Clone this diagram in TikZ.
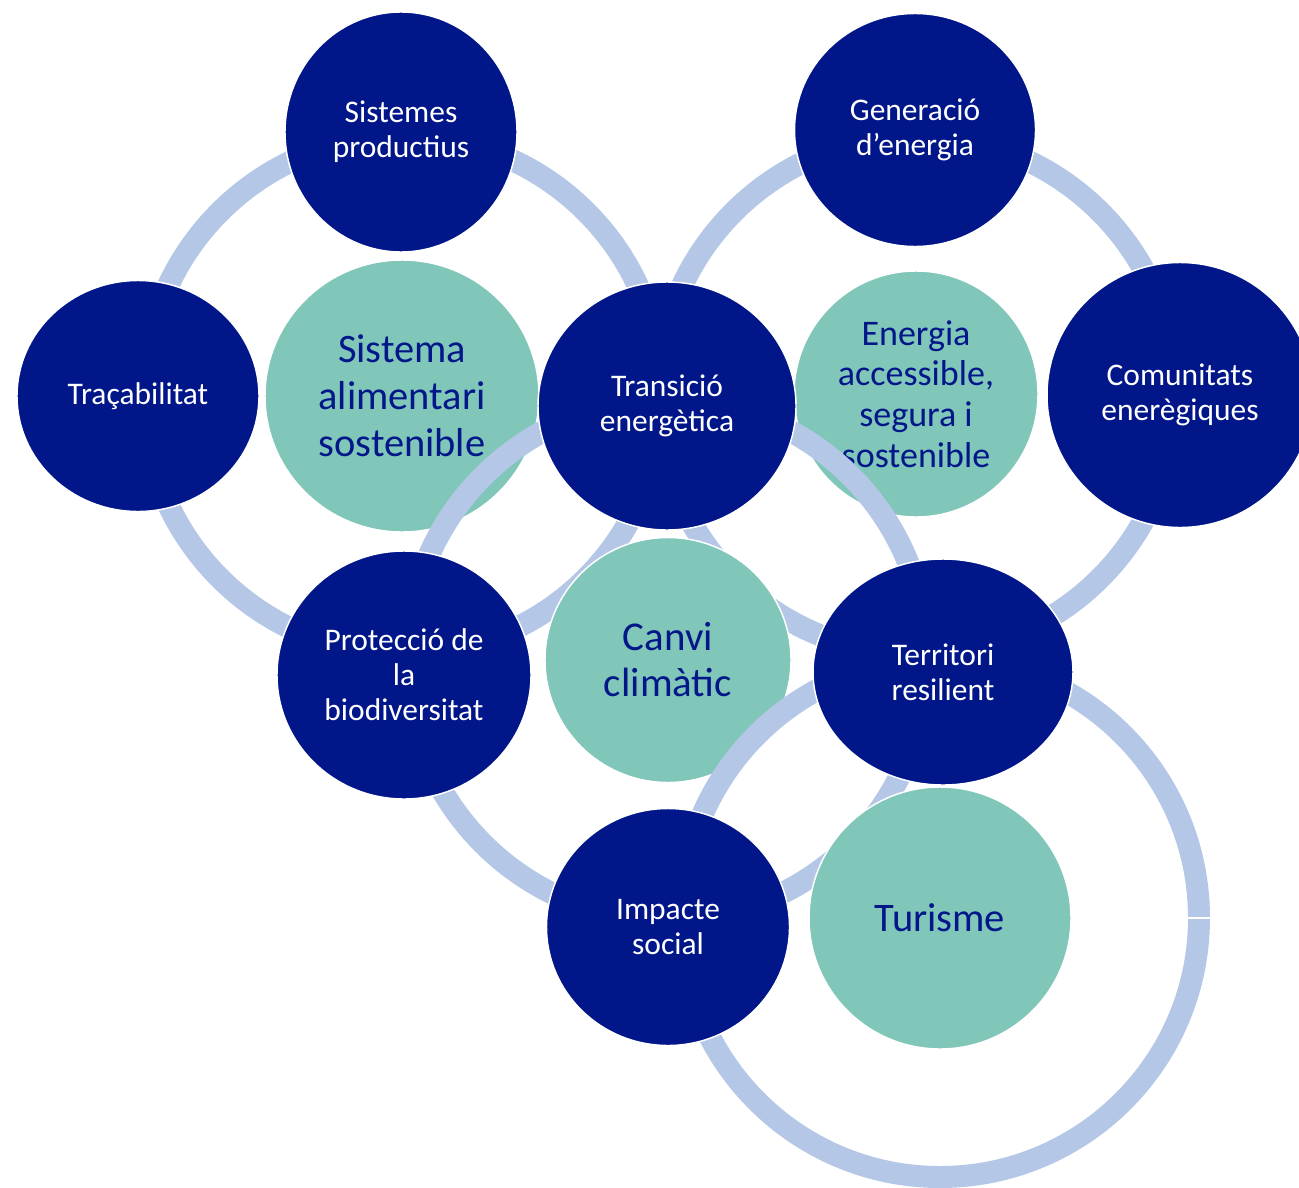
\documentclass[tikz,border=0pt]{standalone}
\usepackage{fontspec}
\setmainfont{Carlito}
\usetikzlibrary{shapes.geometric}
\definecolor{navy}{HTML}{001689}
\definecolor{tealc}{HTML}{80C6B9}
\definecolor{ringc}{HTML}{B4C7E7}
\tikzset{
  ringline/.style={draw=ringc, line width=16.5pt},
  sz/.style 2 args={minimum width=#1*0.75pt, minimum height=#2*0.75pt},
  bubble/.style={ellipse, draw=white, line width=1.1pt, inner sep=0pt, align=center},
  navynode/.style={bubble, fill=navy, text=white, font=\fontsize{23.6}{26.3}\selectfont},
  tealnode/.style={bubble, fill=tealc, text=navy},
  gapline/.style={draw=white, line width=1.2pt}
}
\begin{document}
\begin{tikzpicture}[x=0.75pt,y=-0.75pt]
\useasboundingbox (0,0) rectangle (1299,1188);
% centres of the rings
\coordinate (r1) at (403,395);
\coordinate (r2) at (917,395);
\coordinate (r3) at (667,660);
\coordinate (r4) at (940,918);
% group 1
\draw[ringline] (r1) circle[radius=259];
\node[tealnode, sz={274}{272}, font=\fontsize{30.3}{35.2}\selectfont] (sa) at (402,396) {Sistema\\alimentari\\sostenible};
% group 2
\draw[ringline] (r2) circle[radius=259];
\node[tealnode, sz={244}{246}, font=\fontsize{27}{30.5}\selectfont] (en) at (916,394) {Energia\\accessible,\\segura i\\sostenible};
% group 3
\draw[ringline] (r3) circle[radius=260];
\node[tealnode, sz={246}{245}, font=\fontsize{30.7}{34.5}\selectfont] (cc) at (668,660) {Canvi\\climàtic};
% group 4
\draw[ringline] (r4) circle[radius=259];
\coordinate (g1) at (1186,918);
\coordinate (g2) at (1212,918);
\draw[gapline] (g1) -- (g2);
\node[tealnode, sz={262}{262}, font=\fontsize{30.4}{34.5}\selectfont] (tu) at (940,918) {Turisme};
% satellites
\node[navynode, sz={232}{240}] (sp) at (401,132) {Sistemes\\productius};
\node[navynode, sz={241}{233}] (ge) at (915,130) {Generació\\d’energia};
\node[navynode, sz={242}{231}] (tc) at (138,396) {Traçabilitat};
\node[navynode, sz={266}{265}] (co) at (1180,395) {Comunitats\\enerègiques};
\node[navynode, sz={258}{248}] (te) at (667,406) {Transició\\energètica};
\node[navynode, sz={254}{248}] (pb) at (404,675) {Protecció de\\la\\biodiversitat};
\node[navynode, sz={260}{226}] (tr) at (943,672) {Territori\\resilient};
\node[navynode, sz={243}{237}] (is) at (668,927) {Impacte\\social};
\end{tikzpicture}
\end{document}
